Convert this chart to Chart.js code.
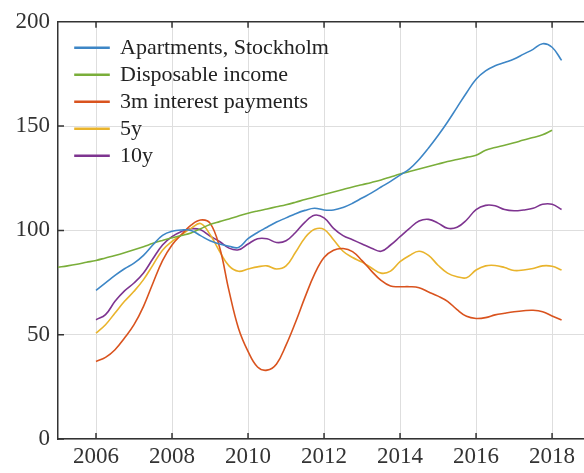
<!DOCTYPE html>
<html>
<head>
<meta charset="utf-8">
<script src="https://cdn.jsdelivr.net/npm/chart.js@4.4.1/dist/chart.umd.min.js"></script>
<style>
    html, body { margin: 0; padding: 0; background: #fff; overflow: hidden; }
    #wrap { width: 584px; height: 473px; }
</style>
</head>
<body>
<div id="wrap"><canvas id="chart"></canvas></div>
<script>
// quarterly time axis (decimal years)
const quarters = [
    2005, 2005.25, 2005.5, 2005.75, 2006, 2006.25, 2006.5, 2006.75,
    2007, 2007.25, 2007.5, 2007.75, 2008, 2008.25, 2008.5, 2008.75,
    2009, 2009.25, 2009.5, 2009.75, 2010, 2010.25, 2010.5, 2010.75,
    2011, 2011.25, 2011.5, 2011.75, 2012, 2012.25, 2012.5, 2012.75,
    2013, 2013.25, 2013.5, 2013.75, 2014, 2014.25, 2014.5, 2014.75,
    2015, 2015.25, 2015.5, 2015.75, 2016, 2016.25, 2016.5, 2016.75,
    2017, 2017.25, 2017.5, 2017.75, 2018, 2018.25
];

const seriesNames = ['Apartments, Stockholm', 'Disposable income', '3m interest payments', '5y', '10y'];

const apartments = [
    null, null, null, null,
    71.2, 74.8, 78.4, 81.6, 84.3, 88.0, 93.1, 97.6,
    99.6, 100.2, 100.0, 97.5, 95.0, 93.5, 92.4, 91.8,
    96.0, 99.0, 101.5, 104.0, 106.0, 108.0, 109.6, 110.6,
    109.8, 109.8, 111.0, 113.0, 115.5, 118.0, 120.8, 123.5,
    126.5, 129.5, 134.0, 139.5, 145.5, 152.0, 159.0, 166.0,
    172.5, 176.5, 178.9, 180.5, 182.2, 184.5, 186.8, 189.5,
    187.8, 181.5
];

const income = [
    82.3, 83.0, 83.8, 84.7,
    85.6, 86.8, 88.0, 89.3, 90.7, 92.2, 93.8, 95.2,
    96.5, 97.6, 98.8, 100.8, 102.8, 104.2, 105.5, 106.9,
    108.2, 109.3, 110.3, 111.3, 112.3, 113.5, 114.8, 116.0,
    117.2, 118.4, 119.6, 120.8, 121.9, 123.0, 124.2, 125.6,
    127.0, 128.2, 129.4, 130.6, 131.8, 133.0, 134.0, 135.0,
    136.0, 138.4, 139.7, 140.8, 142.0, 143.3, 144.5, 145.8,
    148.0, null
];

const rate3m = [
    null, null, null, null,
    37.2, 39.1, 42.8, 48.4, 54.8, 63.6, 74.8, 85.5,
    93.0, 98.0, 102.5, 105.0, 103.5, 92.0, 71.0, 53.0,
    42.0, 34.5, 33.0, 36.0, 45.0, 56.0, 68.0, 79.0,
    87.0, 90.5, 91.3, 89.8, 85.5, 80.5, 76.0, 73.3,
    73.0, 73.0, 72.5, 70.5, 68.5, 66.0, 62.0, 58.8,
    57.8, 58.2, 59.5, 60.3, 61.0, 61.5, 61.7, 61.0,
    59.0, 57.0
];

const rate5y = [
    null, null, null, null,
    50.8, 54.8, 60.4, 66.0, 70.8, 76.4, 83.5, 90.5,
    94.7, 97.9, 101.0, 103.3, 98.0, 90.0, 83.0, 80.4,
    81.5, 82.5, 83.0, 81.5, 83.0, 89.5, 96.5, 100.5,
    100.5, 95.5, 90.0, 87.0, 84.8, 82.0, 79.5, 80.5,
    85.0, 88.0, 90.0, 88.0, 83.3, 79.5, 77.8, 77.3,
    81.0, 83.0, 83.2, 82.2, 80.8, 81.0, 81.7, 83.0,
    82.8, 81.0
];

const rate10y = [
    null, null, null, null,
    57.2, 59.6, 66.0, 71.0, 74.8, 79.6, 86.5, 93.0,
    97.0, 99.5, 100.8, 100.3, 97.3, 94.7, 91.5, 90.7,
    93.5, 96.0, 96.0, 94.2, 95.0, 99.0, 104.0, 107.3,
    106.0, 101.0, 97.5, 95.5, 93.5, 91.5, 90.0, 93.0,
    97.0, 101.0, 104.5, 105.3, 103.5, 101.0, 101.5, 105.0,
    110.0, 112.0, 111.8, 110.0, 109.4, 109.8, 110.6, 112.5,
    112.5, 110.0
];

const colors = ['#3d86c6', '#7aae3a', '#d9531e', '#e9b42c', '#7e3490'];
const values = [apartments, income, rate3m, rate5y, rate10y];

const serif = 'Liberation Serif';
const axisColor = '#333';
const gridColor = '#dedede';

// inward tick marks and top frame line, like the original plot
const frameTicks = {
    id: 'frameTicks',
    afterDraw(chart) {
        const { ctx, chartArea: a, scales: { x, y } } = chart;
        ctx.save();
        ctx.strokeStyle = axisColor;
        ctx.lineWidth = 1.5;
        ctx.beginPath();
        ctx.moveTo(a.left, a.top);
        ctx.lineTo(a.right, a.top);
        x.ticks.forEach(t => {
            const px = x.getPixelForValue(t.value);
            ctx.moveTo(px, a.bottom); ctx.lineTo(px, a.bottom - 6);
            ctx.moveTo(px, a.top); ctx.lineTo(px, a.top + 6);
        });
        y.ticks.forEach(t => {
            const py = y.getPixelForValue(t.value);
            ctx.moveTo(a.left, py); ctx.lineTo(a.left + 6, py);
        });
        ctx.stroke();
        ctx.restore();
    }
};

// a vertical legend gets top = 0, so move it inside the plot box
const legendNudge = {
    id: 'legendNudge',
    afterLayout(chart) {
        const lg = chart.legend;
        lg.left += 12;
        lg.top = chart.chartArea.top + 10;
        lg.bottom = lg.top + lg.height;
    }
};

new Chart(document.getElementById('chart'), {
    type: 'line',
    data: {
        labels: quarters,
        datasets: seriesNames.map((name, i) => ({
            label: name,
            data: values[i],
            borderColor: colors[i],
            backgroundColor: colors[i],
            borderWidth: 1.6,
            pointRadius: 0,
            tension: 0.4,
            fill: false
        }))
    },
    options: {
        responsive: true,
        maintainAspectRatio: false,
        animation: false,
        layout: { padding: { top: 19, left: 0, right: 0, bottom: 0 } },
        plugins: {
            legend: {
                position: 'chartArea',
                align: 'start',
                labels: {
                    boxWidth: 34,
                    boxHeight: 1,
                    padding: 5,
                    color: '#222',
                    font: { family: serif, size: 22 }
                }
            },
            tooltip: { enabled: false }
        },
        scales: {
            x: {
                type: 'linear',
                min: 2005,
                max: 2018.84,
                afterFit: s => { s.height = 34; },
                ticks: {
                    stepSize: 2,
                    includeBounds: false,
                    padding: 4,
                    color: axisColor,
                    font: { family: serif, size: 23 },
                    callback: v => String(v)
                },
                grid: { color: gridColor, drawTicks: false },
                border: { color: axisColor, width: 1.5 }
            },
            y: {
                min: 0,
                max: 200,
                afterFit: s => { s.width = 58; },
                ticks: {
                    stepSize: 50,
                    padding: 8,
                    color: axisColor,
                    font: { family: serif, size: 23 }
                },
                grid: { color: gridColor, drawTicks: false },
                border: { color: axisColor, width: 1.5 }
            }
        }
    },
    plugins: [frameTicks, legendNudge]
});
</script>
</body>
</html>
